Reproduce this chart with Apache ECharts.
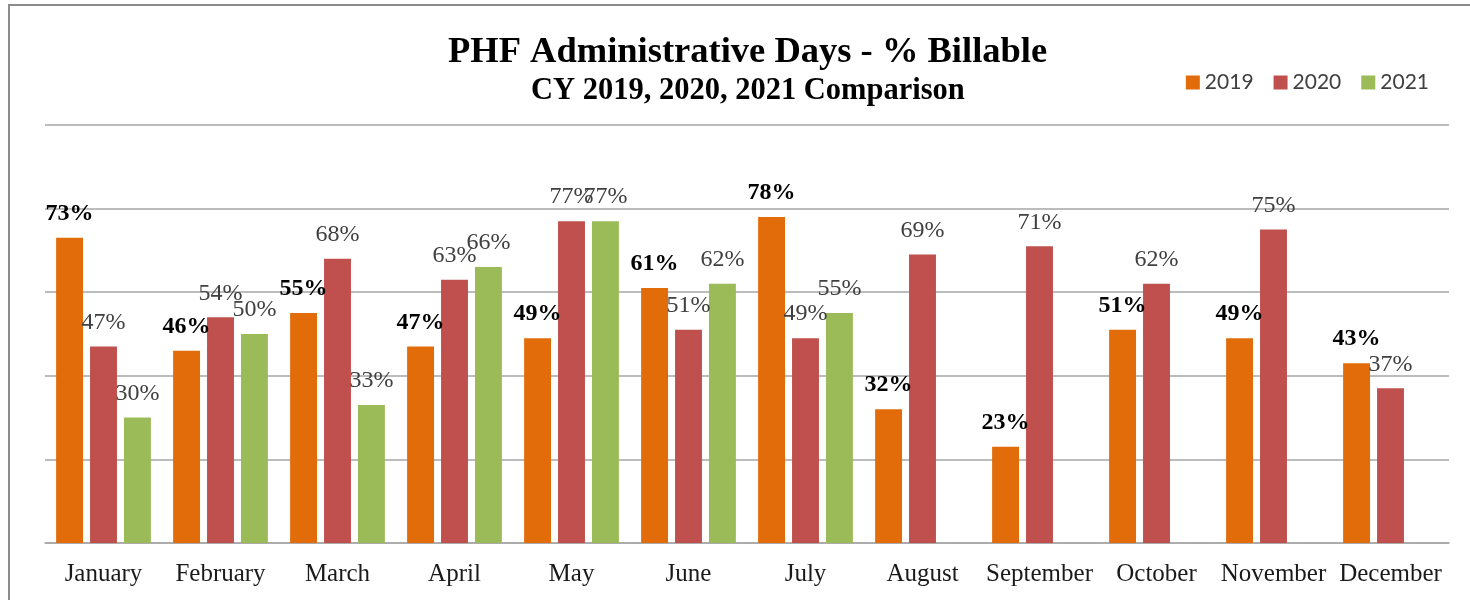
<!DOCTYPE html>
<html>
<head>
<meta charset="utf-8">
<script src="https://cdn.jsdelivr.net/npm/echarts@6/dist/echarts.min.js"></script>
<style>html,body{margin:0;padding:0;background:#fff}#c{width:1470px;height:600px}</style>
</head>
<body>
<div id="c"></div>
<script>
const months = ['January','February','March','April','May','June','July','August','September','October','November','December'];
const y2019 = [73,46,55,47,49,61,78,32,23,51,49,43];
const y2020 = [47,54,68,63,77,51,49,69,71,62,75,37];
const y2021 = [30,50,33,66,77,62,55,null,null,null,null,null];
const seriesNames = ['2019','2020','2021'];
const titleText = 'PHF Administrative Days - % Billable';
const subtitleText = 'CY 2019, 2020, 2021 Comparison';

const serif = 'Liberation Serif';
const chart = echarts.init(document.getElementById('c'), null, {renderer:'canvas'});
function lbl(bold){
  return {
    show:true, position:'top', distance:12,
    formatter: p => p.value == null ? '' : p.value + '%',
    fontFamily: serif, fontSize: 24,
    fontWeight: bold ? 'bold' : 'normal',
    color: bold ? '#000000' : '#404040'
  };
}
chart.setOption({
  animation:false,
  graphic:[{type:'rect', shape:{x:9,y:5,width:1500,height:700}, style:{fill:'none', stroke:'#8c8c8c', lineWidth:2}, silent:true}],
  title:[
    {text:titleText, left:443, top:29, textStyle:{fontFamily:serif, fontSize:36.5, fontWeight:'bold', color:'#000'}},
    {text:subtitleText, left:526, top:71, textStyle:{fontFamily:serif, fontSize:30.5, fontWeight:'bold', color:'#000'}}
  ],
  legend:{
    right:36, top:67, itemWidth:14, itemHeight:14, itemGap:20,
    icon:'rect',
    textStyle:{fontFamily:'Lato', fontSize:21, color:'#404040'},
    data: seriesNames
  },
  grid:{left:45, right:21, top:125, bottom:57},
  xAxis:{
    type:'category', data:months,
    axisTick:{show:false},
    axisLine:{lineStyle:{color:'#a6a6a6', width:1.5}},
    axisLabel:{fontFamily:serif, fontSize:25, color:'#1a1a1a', margin:19, interval:0}
  },
  yAxis:{
    type:'value', min:0, max:100, interval:20,
    axisLabel:{show:false}, axisLine:{show:false}, axisTick:{show:false},
    splitLine:{lineStyle:{color:'#a6a6a6', width:1.5}}
  },
  series:[
    {name:seriesNames[0], type:'bar', data:y2019, itemStyle:{color:'#E36C0A'}, barGap:'26%', barCategoryGap:'19%', label:lbl(true)},
    {name:seriesNames[1], type:'bar', data:y2020, itemStyle:{color:'#C0504D'}, barGap:'26%', barCategoryGap:'19%', label:lbl(false)},
    {name:seriesNames[2], type:'bar', data:y2021, itemStyle:{color:'#9BBB59'}, barGap:'26%', barCategoryGap:'19%', label:lbl(false)}
  ]
});
</script>
</body>
</html>
